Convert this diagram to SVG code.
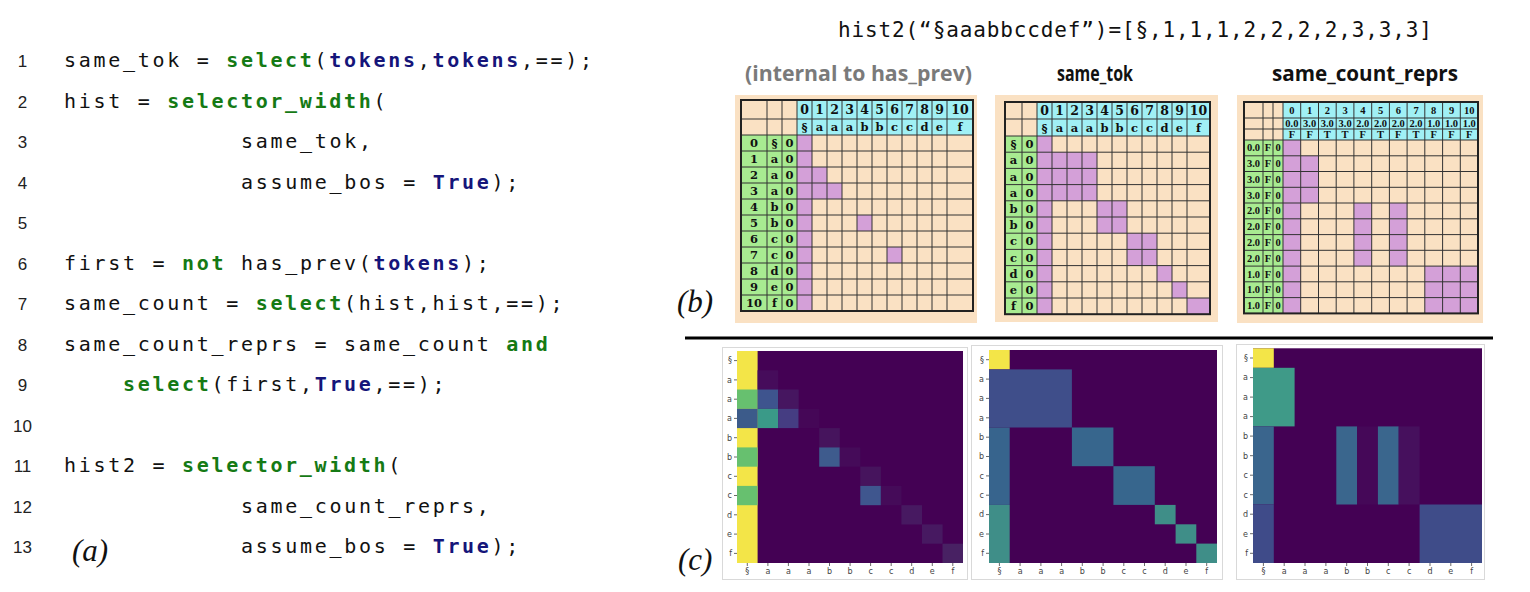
<svg xmlns="http://www.w3.org/2000/svg" width="1530" height="592" viewBox="0 0 1530 592">
<defs>
<style>
.code{font-family:"DejaVu Sans Mono",monospace;font-size:20px;letter-spacing:2.7px;fill:#111}
.kw{fill:#157a15;font-weight:bold}
.nv{fill:#15157a;font-weight:bold}
.ln{font-family:"Liberation Sans",sans-serif;font-size:17px;fill:#222;text-anchor:middle}
.lab{font-family:"Liberation Serif",serif;font-style:italic;font-size:31px;fill:#111}
.sub{font-family:"Open Sans",sans-serif;font-weight:bold;font-size:21px;fill:#111}
.panel{fill:#fae1c3}
.cy{fill:#a0f0f5}
.gr{fill:#a8eb91}
.pu{fill:#d4a0d8}
.grid{fill:none;stroke:#333;stroke-width:1}
.bord{fill:none;stroke:#222;stroke-width:2}
.mt{font-family:"DejaVu Serif",serif;font-weight:bold;font-size:11.5px;text-anchor:middle;fill:#111}
.mh{font-family:"DejaVu Serif",serif;font-weight:bold;font-size:12.5px;text-anchor:middle;fill:#111}
.m3{font-family:"Liberation Serif",serif;font-weight:bold;font-size:10.5px;text-anchor:middle;fill:#111}
.frame{fill:none;stroke:#d9d9d9;stroke-width:1}
.tk{font-family:"DejaVu Sans",sans-serif;font-size:8px;fill:#444}
.tl{font-family:"DejaVu Sans",sans-serif;font-size:8px;fill:#444;text-anchor:middle}
.tick{stroke:#444;stroke-width:0.8}
</style>
</defs>
<rect width="1530" height="592" fill="#fff"/>

<g id="code">
<text class="ln" x="22.5" y="67">1</text>
<text class="ln" x="22.5" y="107.5">2</text>
<text class="ln" x="22.5" y="148">3</text>
<text class="ln" x="22.5" y="188.5">4</text>
<text class="ln" x="22.5" y="229">5</text>
<text class="ln" x="22.5" y="269.5">6</text>
<text class="ln" x="22.5" y="310">7</text>
<text class="ln" x="22.5" y="350.5">8</text>
<text class="ln" x="22.5" y="391">9</text>
<text class="ln" x="22.5" y="431.5">10</text>
<text class="ln" x="22.5" y="472">11</text>
<text class="ln" x="22.5" y="512.5">12</text>
<text class="ln" x="22.5" y="553">13</text>
<text class="code" x="64" y="67">same_tok = <tspan class="kw">select</tspan>(<tspan class="nv">tokens</tspan>,<tspan class="nv">tokens</tspan>,==);</text>
<text class="code" x="64" y="107.5">hist = <tspan class="kw">selector_width</tspan>(</text>
<text class="code" x="241" y="148">same_tok,</text>
<text class="code" x="241" y="188.5">assume_bos = <tspan class="nv">True</tspan>);</text>
<text class="code" x="64" y="269.5">first = <tspan class="kw">not</tspan> has_prev(<tspan class="nv">tokens</tspan>);</text>
<text class="code" x="64" y="310">same_count = <tspan class="kw">select</tspan>(hist,hist,==);</text>
<text class="code" x="64" y="350.5">same_count_reprs = same_count <tspan class="kw">and</tspan></text>
<text class="code" x="123" y="391"><tspan class="kw">select</tspan>(first,<tspan class="nv">True</tspan>,==);</text>
<text class="code" x="64" y="472">hist2 = <tspan class="kw">selector_width</tspan>(</text>
<text class="code" x="241" y="512.5">same_count_reprs,</text>
<text class="code" x="241" y="553">assume_bos = <tspan class="nv">True</tspan>);</text>
<text class="lab" x="72" y="561">(a)</text>
</g>

<g id="title">
<text x="838" y="37" font-family="DejaVu Sans Mono, monospace" font-size="21" fill="#111" textLength="594" lengthAdjust="spacing">hist2(“§aaabbccdef”)=[§,1,1,1,2,2,2,2,3,3,3]</text>
<text class="sub" x="745" y="81" style="fill:#7a7a7a" textLength="227" lengthAdjust="spacingAndGlyphs">(internal to has_prev)</text>
<text class="sub" x="1057" y="81" textLength="76" lengthAdjust="spacingAndGlyphs">same_tok</text>
<text class="sub" x="1272" y="81" textLength="186" lengthAdjust="spacingAndGlyphs">same_count_reprs</text>
<text class="lab" x="677" y="312">(b)</text>
<text class="lab" x="678" y="570">(c)</text>
</g>

<g id="matrix-has-prev">
<rect class="panel" x="735" y="95" width="242" height="228"/>
<rect class="cy" x="797" y="100" width="176" height="35"/>
<rect class="gr" x="741" y="135" width="56" height="176"/>
<rect class="pu" x="797" y="135" width="15" height="176"/>
<rect class="pu" x="812" y="167" width="15" height="16"/>
<rect class="pu" x="812" y="183" width="30" height="16"/>
<rect class="pu" x="857" y="215" width="15" height="16"/>
<rect class="pu" x="887" y="247" width="15" height="16"/>
<path class="grid" d="M767 100V311M782 100V311M797 100V311M812 100V311M827 100V311M842 100V311M857 100V311M872 100V311M887 100V311M902 100V311M917 100V311M932 100V311M947 100V311M741 119H973M741 135H973M741 151H973M741 167H973M741 183H973M741 199H973M741 215H973M741 231H973M741 247H973M741 263H973M741 279H973M741 295H973"/>
<rect class="bord" x="741" y="100" width="232" height="211"/>
<text class="mh" x="804.5 819.5 834.5 849.5 864.5 879.5 894.5 909.5 924.5 939.5 960" y="114">012345678910</text>
<text class="mt" x="804.5 819.5 834.5 849.5 864.5 879.5 894.5 909.5 924.5 939.5 960" y="131">§aaabbccdef</text>
<text class="mt" x="754 774.5 789.5" y="147">0§0</text>
<text class="mt" x="754 774.5 789.5" y="163">1a0</text>
<text class="mt" x="754 774.5 789.5" y="179">2a0</text>
<text class="mt" x="754 774.5 789.5" y="195">3a0</text>
<text class="mt" x="754 774.5 789.5" y="211">4b0</text>
<text class="mt" x="754 774.5 789.5" y="227">5b0</text>
<text class="mt" x="754 774.5 789.5" y="243">6c0</text>
<text class="mt" x="754 774.5 789.5" y="259">7c0</text>
<text class="mt" x="754 774.5 789.5" y="275">8d0</text>
<text class="mt" x="754 774.5 789.5" y="291">9e0</text>
<text class="mt" x="754" y="307">10</text>
<text class="mt" x="774.5 789.5" y="307">f0</text>
</g>

<g id="matrix-same-tok">
<rect class="panel" x="995" y="95" width="223" height="227"/>
<rect class="cy" x="1037" y="102" width="173" height="34"/>
<rect class="gr" x="1005" y="136" width="32" height="178.2"/>
<rect class="pu" x="1037" y="136" width="15" height="178.2"/>
<rect class="pu" x="1052" y="152.2" width="45" height="48.6"/>
<rect class="pu" x="1097" y="200.8" width="30" height="32.4"/>
<rect class="pu" x="1127" y="233.2" width="30" height="32.4"/>
<rect class="pu" x="1157" y="265.6" width="15" height="16.2"/>
<rect class="pu" x="1172" y="281.8" width="15" height="16.2"/>
<rect class="pu" x="1187" y="298" width="23" height="16.2"/>
<path class="grid" d="M1022 102V314.2M1037 102V314.2M1052 102V314.2M1067 102V314.2M1082 102V314.2M1097 102V314.2M1112 102V314.2M1127 102V314.2M1142 102V314.2M1157 102V314.2M1172 102V314.2M1187 102V314.2M1005 119H1210M1005 136H1210M1005 152.2H1210M1005 168.4H1210M1005 184.6H1210M1005 200.8H1210M1005 217H1210M1005 233.2H1210M1005 249.4H1210M1005 265.6H1210M1005 281.8H1210M1005 298H1210"/>
<rect class="bord" x="1005" y="102" width="205" height="212.2"/>
<text class="mh" x="1044.5 1059.5 1074.5 1089.5 1104.5 1119.5 1134.5 1149.5 1164.5 1179.5 1198.5" y="115">012345678910</text>
<text class="mt" x="1044.5 1059.5 1074.5 1089.5 1104.5 1119.5 1134.5 1149.5 1164.5 1179.5 1198.5" y="132">§aaabbccdef</text>
<text class="mt" x="1013.5 1029.5" y="148.1">§0</text>
<text class="mt" x="1013.5 1029.5" y="164.3">a0</text>
<text class="mt" x="1013.5 1029.5" y="180.5">a0</text>
<text class="mt" x="1013.5 1029.5" y="196.7">a0</text>
<text class="mt" x="1013.5 1029.5" y="212.9">b0</text>
<text class="mt" x="1013.5 1029.5" y="229.1">b0</text>
<text class="mt" x="1013.5 1029.5" y="245.3">c0</text>
<text class="mt" x="1013.5 1029.5" y="261.5">c0</text>
<text class="mt" x="1013.5 1029.5" y="277.7">d0</text>
<text class="mt" x="1013.5 1029.5" y="293.9">e0</text>
<text class="mt" x="1013.5 1029.5" y="310.1">f0</text>
</g>

<g id="matrix-same-count-reprs">
<rect class="panel" x="1237" y="95" width="246" height="228"/>
<rect class="cy" x="1283" y="102" width="195" height="38"/>
<rect class="gr" x="1244" y="140" width="39" height="173.4"/>
<rect class="pu" x="1283" y="140" width="17.7" height="173.4"/>
<rect class="pu" x="1300.7" y="155.8" width="17.8" height="47.2"/>
<rect class="pu" x="1353.9" y="203" width="17.8" height="63.1"/>
<rect class="pu" x="1389.4" y="203" width="17.7" height="63.1"/>
<rect class="pu" x="1424.8" y="266.1" width="53.2" height="47.3"/>
<path class="grid" d="M1263 102V313.4M1273 102V313.4M1283 102V313.4M1300.7 102V313.4M1318.5 102V313.4M1336.2 102V313.4M1353.9 102V313.4M1371.7 102V313.4M1389.4 102V313.4M1407.1 102V313.4M1424.8 102V313.4M1442.6 102V313.4M1460.3 102V313.4M1244 118H1478M1244 129H1478M1244 140H1478M1244 155.8H1478M1244 171.5H1478M1244 187.3H1478M1244 203H1478M1244 218.8H1478M1244 234.6H1478M1244 250.3H1478M1244 266.1H1478M1244 281.8H1478M1244 297.6H1478"/>
<rect class="bord" x="1244" y="102" width="234" height="211.4"/>
<text class="m3" x="1291.9 1309.6 1327.3 1345.1 1362.8 1380.5 1398.3 1416 1433.7 1451.5 1469.2" y="114">012345678910</text>
<text class="m3" y="127"><tspan x="1291.9">0.0</tspan><tspan x="1309.6">3.0</tspan><tspan x="1327.3">3.0</tspan><tspan x="1345.1">3.0</tspan><tspan x="1362.8">2.0</tspan><tspan x="1380.5">2.0</tspan><tspan x="1398.3">2.0</tspan><tspan x="1416">2.0</tspan><tspan x="1433.7">1.0</tspan><tspan x="1451.5">1.0</tspan><tspan x="1469.2">1.0</tspan></text>
<text class="m3" x="1291.9 1309.6 1327.3 1345.1 1362.8 1380.5 1398.3 1416 1433.7 1451.5 1469.2" y="138">FFTTFTFTFFF</text>
<text class="m3" y="151.4"><tspan x="1253.5">0.0</tspan><tspan x="1268">F</tspan><tspan x="1278">0</tspan></text>
<text class="m3" y="167.2"><tspan x="1253.5">3.0</tspan><tspan x="1268">F</tspan><tspan x="1278">0</tspan></text>
<text class="m3" y="182.9"><tspan x="1253.5">3.0</tspan><tspan x="1268">F</tspan><tspan x="1278">0</tspan></text>
<text class="m3" y="198.7"><tspan x="1253.5">3.0</tspan><tspan x="1268">F</tspan><tspan x="1278">0</tspan></text>
<text class="m3" y="214.4"><tspan x="1253.5">2.0</tspan><tspan x="1268">F</tspan><tspan x="1278">0</tspan></text>
<text class="m3" y="230.2"><tspan x="1253.5">2.0</tspan><tspan x="1268">F</tspan><tspan x="1278">0</tspan></text>
<text class="m3" y="246"><tspan x="1253.5">2.0</tspan><tspan x="1268">F</tspan><tspan x="1278">0</tspan></text>
<text class="m3" y="261.7"><tspan x="1253.5">2.0</tspan><tspan x="1268">F</tspan><tspan x="1278">0</tspan></text>
<text class="m3" y="277.5"><tspan x="1253.5">1.0</tspan><tspan x="1268">F</tspan><tspan x="1278">0</tspan></text>
<text class="m3" y="293.2"><tspan x="1253.5">1.0</tspan><tspan x="1268">F</tspan><tspan x="1278">0</tspan></text>
<text class="m3" y="309"><tspan x="1253.5">1.0</tspan><tspan x="1268">F</tspan><tspan x="1278">0</tspan></text>
</g>

<g id="separator">
<line x1="685" y1="338" x2="1493" y2="338" stroke="#000" stroke-width="3"/>
</g>

<g id="heatmap-has-prev">
<rect class="frame" x="722.5" y="347.5" width="245" height="232"/>
<rect x="737" y="351" width="226" height="212" fill="#440154"/>
<rect x="737" y="351" width="20.6" height="212" fill="#f3e548"/>
<rect x="737" y="389.5" width="20.6" height="19.3" fill="#67c06f"/>
<rect x="737" y="408.8" width="20.6" height="19.3" fill="#3c5b8a"/>
<rect x="737" y="447.4" width="20.6" height="19.3" fill="#67c06f"/>
<rect x="737" y="485.9" width="20.6" height="19.3" fill="#67c06f"/>
<rect x="757.6" y="370.3" width="20.6" height="19.3" fill="#460c5b"/>
<rect x="757.6" y="389.5" width="20.6" height="19.3" fill="#3e548e"/>
<rect x="757.6" y="408.8" width="20.6" height="19.3" fill="#3a9a88"/>
<rect x="778.1" y="389.5" width="20.6" height="19.3" fill="#461660"/>
<rect x="778.1" y="408.8" width="20.6" height="19.3" fill="#453d82"/>
<rect x="798.7" y="408.8" width="20.6" height="19.3" fill="#450757"/>
<rect x="819.2" y="428.1" width="20.6" height="19.3" fill="#46145d"/>
<rect x="819.2" y="447.4" width="20.6" height="19.3" fill="#3e5b8d"/>
<rect x="839.8" y="447.4" width="20.6" height="19.3" fill="#450b59"/>
<rect x="860.3" y="466.6" width="20.6" height="19.3" fill="#46145d"/>
<rect x="860.3" y="485.9" width="20.6" height="19.3" fill="#3f568e"/>
<rect x="880.9" y="485.9" width="20.6" height="19.3" fill="#450b59"/>
<rect x="901.4" y="505.2" width="20.6" height="19.3" fill="#471961"/>
<rect x="922" y="524.4" width="20.6" height="19.3" fill="#471961"/>
<rect x="942.5" y="543.7" width="20.5" height="19.3" fill="#482163"/>
<path class="tick" d="M734 360.6H737M734 379.9H737M734 399.2H737M734 418.4H737M734 437.7H737M734 457H737M734 476.3H737M734 495.5H737M734 514.8H737M734 534.1H737M734 553.4H737M747.3 563V566M767.9 563V566M788.4 563V566M809 563V566M829.5 563V566M850.1 563V566M870.6 563V566M891.2 563V566M911.7 563V566M932.3 563V566M952.8 563V566"/>
<text class="tk" text-anchor="end" x="732" y="363.4">§</text>
<text class="tk" text-anchor="end" x="732" y="382.7">a</text>
<text class="tk" text-anchor="end" x="732" y="402">a</text>
<text class="tk" text-anchor="end" x="732" y="421.2">a</text>
<text class="tk" text-anchor="end" x="732" y="440.5">b</text>
<text class="tk" text-anchor="end" x="732" y="459.8">b</text>
<text class="tk" text-anchor="end" x="732" y="479.1">c</text>
<text class="tk" text-anchor="end" x="732" y="498.3">c</text>
<text class="tk" text-anchor="end" x="732" y="517.6">d</text>
<text class="tk" text-anchor="end" x="732" y="536.9">e</text>
<text class="tk" text-anchor="end" x="732" y="556.2">f</text>
<text class="tl" x="747.3 767.9 788.4 809 829.5 850.1 870.6 891.2 911.7 932.3 952.8" y="574">§aaabbccdef</text>
</g>

<g id="heatmap-same-tok">
<rect class="frame" x="971.5" y="345.5" width="251" height="234"/>
<rect x="989" y="350" width="228" height="213" fill="#440154"/>
<rect x="989" y="350" width="20.7" height="19.4" fill="#f3e548"/>
<rect x="989" y="369.4" width="82.9" height="58.1" fill="#3f4e8a"/>
<rect x="989" y="427.5" width="20.7" height="77.4" fill="#37648d"/>
<rect x="1071.9" y="427.5" width="41.5" height="38.7" fill="#37668d"/>
<rect x="1113.4" y="466.2" width="41.4" height="38.7" fill="#37668d"/>
<rect x="989" y="504.9" width="20.7" height="58.1" fill="#3f8e88"/>
<rect x="1154.8" y="504.9" width="20.8" height="19.4" fill="#3f8e88"/>
<rect x="1175.6" y="524.3" width="20.7" height="19.3" fill="#3f8e88"/>
<rect x="1196.3" y="543.6" width="20.7" height="19.4" fill="#3f8e88"/>
<path class="tick" d="M986 359.7H989M986 379.1H989M986 398.4H989M986 417.8H989M986 437.2H989M986 456.5H989M986 475.9H989M986 495.2H989M986 514.6H989M986 534H989M986 553.3H989M999.4 563V566M1020.1 563V566M1040.9 563V566M1061.6 563V566M1082.3 563V566M1103.1 563V566M1123.8 563V566M1144.5 563V566M1165.2 563V566M1186 563V566M1206.7 563V566"/>
<text class="tk" text-anchor="end" x="984" y="362.5">§</text>
<text class="tk" text-anchor="end" x="984" y="381.9">a</text>
<text class="tk" text-anchor="end" x="984" y="401.2">a</text>
<text class="tk" text-anchor="end" x="984" y="420.6">a</text>
<text class="tk" text-anchor="end" x="984" y="440">b</text>
<text class="tk" text-anchor="end" x="984" y="459.3">b</text>
<text class="tk" text-anchor="end" x="984" y="478.7">c</text>
<text class="tk" text-anchor="end" x="984" y="498">c</text>
<text class="tk" text-anchor="end" x="984" y="517.4">d</text>
<text class="tk" text-anchor="end" x="984" y="536.8">e</text>
<text class="tk" text-anchor="end" x="984" y="556.1">f</text>
<text class="tl" x="999.4 1020.1 1040.9 1061.6 1082.3 1103.1 1123.8 1144.5 1165.2 1186 1206.7" y="574">§aaabbccdef</text>
</g>

<g id="heatmap-same-count-reprs">
<rect class="frame" x="1236.5" y="344.5" width="248" height="235"/>
<rect x="1253" y="348.3" width="229" height="214.7" fill="#440154"/>
<rect x="1253" y="348.3" width="20.8" height="19.5" fill="#f3e548"/>
<rect x="1253" y="367.8" width="41.6" height="58.6" fill="#3f9a88"/>
<rect x="1253" y="426.4" width="20.8" height="78.1" fill="#3a658d"/>
<rect x="1336.3" y="426.4" width="20.8" height="78.1" fill="#3a668d"/>
<rect x="1357.1" y="426.4" width="20.8" height="78.1" fill="#450858"/>
<rect x="1377.9" y="426.4" width="20.8" height="78.1" fill="#3a668d"/>
<rect x="1398.7" y="426.4" width="20.9" height="78.1" fill="#46105d"/>
<rect x="1253" y="504.5" width="20.8" height="58.5" fill="#3f4b89"/>
<rect x="1419.6" y="504.5" width="62.4" height="58.5" fill="#3f4c89"/>
<path class="tick" d="M1250 358H1253M1250 377.6H1253M1250 397.1H1253M1250 416.6H1253M1250 436.1H1253M1250 455.7H1253M1250 475.2H1253M1250 494.7H1253M1250 514.2H1253M1250 533.7H1253M1250 553.3H1253M1263.4 563V566M1284.2 563V566M1305 563V566M1325.9 563V566M1346.7 563V566M1367.5 563V566M1388.3 563V566M1409.1 563V566M1430 563V566M1450.8 563V566M1471.6 563V566"/>
<text class="tk" text-anchor="end" x="1248" y="360.8">§</text>
<text class="tk" text-anchor="end" x="1248" y="380.4">a</text>
<text class="tk" text-anchor="end" x="1248" y="399.9">a</text>
<text class="tk" text-anchor="end" x="1248" y="419.4">a</text>
<text class="tk" text-anchor="end" x="1248" y="438.9">b</text>
<text class="tk" text-anchor="end" x="1248" y="458.5">b</text>
<text class="tk" text-anchor="end" x="1248" y="478">c</text>
<text class="tk" text-anchor="end" x="1248" y="497.5">c</text>
<text class="tk" text-anchor="end" x="1248" y="517">d</text>
<text class="tk" text-anchor="end" x="1248" y="536.5">e</text>
<text class="tk" text-anchor="end" x="1248" y="556.1">f</text>
<text class="tl" x="1263.4 1284.2 1305 1325.9 1346.7 1367.5 1388.3 1409.1 1430 1450.8 1471.6" y="574">§aaabbccdef</text>
</g>
</svg>
